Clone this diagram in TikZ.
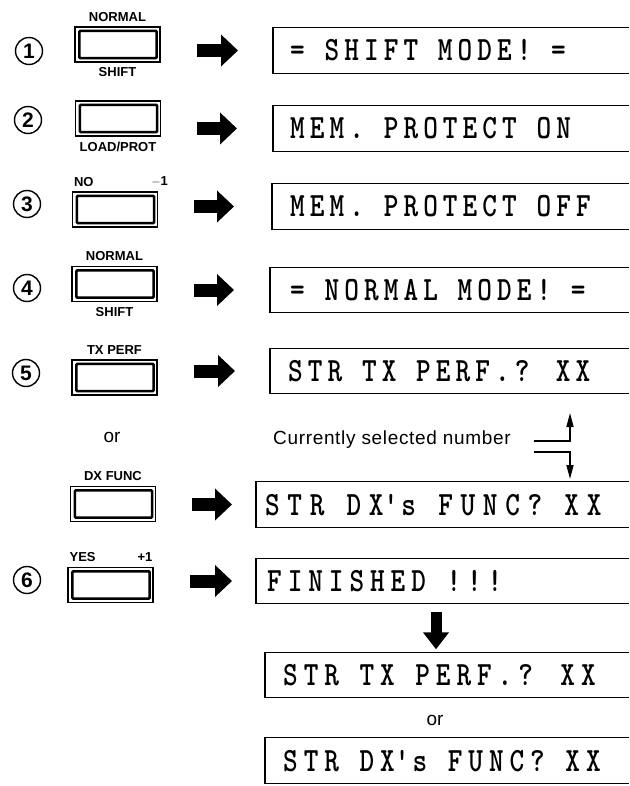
\documentclass[tikz,border=0pt]{standalone}
\usepackage{fontspec}
\setmainfont{Liberation Sans}
\newfontfamily\lcdfont[FakeStretch=0.82,LetterSpace=15]{lmmonolt10-bold.otf}
\newfontfamily\lcdmid[FakeStretch=0.82,LetterSpace=17.5]{lmmonolt10-bold.otf}
\newfontfamily\lcdwide[FakeStretch=0.82,LetterSpace=22.5]{lmmonolt10-bold.otf}
\newfontfamily\widefont[LetterSpace=3.5]{Liberation Sans}
\usetikzlibrary{arrows.meta,positioning}

\tikzset{
  keycap/.style={draw, line width=1.2pt, minimum width=85pt, minimum height=35pt, inner sep=0pt},
  keyin/.style={line width=2.6pt, rounded corners=1pt},
  keylbl/.style={font=\fontsize{13}{14}\selectfont\bfseries, inner sep=0pt},
  stepnum/.style={draw, circle, line width=1.4pt, minimum size=27pt, inner sep=0pt, font=\fontsize{21}{21}\selectfont\bfseries},
  txt/.style={font=\fontsize{19}{19}\selectfont, inner sep=0pt},
  lcd/.style={anchor=west, minimum height=45pt, inner ysep=0pt, text height=21pt, text depth=0pt, font=\lcdfont\fontsize{34}{34}\selectfont},
  lcdmid/.style={lcd, font=\lcdmid\fontsize{34}{34}\selectfont},
  lcdwide/.style={lcd, font=\lcdwide\fontsize{34}{34}\selectfont},
  lcdframe/.style={line width=1.3pt},
  fat/.style={line width=13pt, -{Triangle[width=31pt,length=17pt]}},
  fatdown/.style={line width=11pt, -{Triangle[width=25pt,length=17pt]}},
  selarrow/.style={line width=1.6pt, -{Triangle[width=7pt,length=14pt]}}
}

\begin{document}
\begin{tikzpicture}[x=1pt,y=-1pt]
  \useasboundingbox (0,0) rectangle (629,786);
  \coordinate (edge) at (629,0);

  % step numbers
  \node[stepnum] (n1) at (29,51) {1};
  \node[stepnum] (n2) at (28,120) {2};
  \node[stepnum] (n3) at (27,204) {3};
  \node[stepnum] (n4) at (27,288) {4};
  \node[stepnum] (n5) at (26,373) {5};
  \node[stepnum] (n6) at (27,580) {6};

  % keys
  \node[keycap] (k1) at (117.5,44.5) {};
  \node[keycap] (k2) at (118,118.5) {};
  \node[keycap] (k3) at (115,209.5) {};
  \node[keycap] (k4) at (114.5,284) {};
  \node[keycap] (k5) at (114.5,377.5) {};
  \node[keycap] (k6) at (113,504) {};
  \node[keycap] (k7) at (110.5,585) {};
  \foreach \k in {k1,k2,k3,k4,k5,k6,k7}
    \draw[keyin] ([shift={(5pt,-4.5pt)}]\k.north west) rectangle ([shift={(-4pt,4.5pt)}]\k.south east);

  % key legends
  \node[keylbl, above=5pt of k1] (k1up) {NORMAL};
  \node[keylbl, below=5pt of k1] (k1dn) {SHIFT};
  \node[keylbl, below=5pt of k2] (k2dn) {LOAD/PROT};
  \node[keylbl, anchor=south west] (k3no) at ([shift={(2pt,5pt)}]k3.north west) {NO};
  \node[keylbl, anchor=south east] (k3dec) at ([shift={(10pt,5pt)}]k3.north east) {$-$1};
  \node[keylbl, above=5pt of k4] (k4up) {NORMAL};
  \node[keylbl, below=5pt of k4] (k4dn) {SHIFT};
  \node[keylbl, above=5pt of k5] (k5up) {TX PERF};
  \node[keylbl, above=5pt of k6] (k6up) {DX FUNC};
  \node[keylbl, anchor=south west] (k7yes) at ([shift={(2pt,5pt)}]k7.north west) {YES};
  \node[keylbl, anchor=south east] (k7inc) at ([shift={(-1pt,5pt)}]k7.north east) {+1};

  % displays
  \node[lcd, inner xsep=17pt] (d1) at (273,50.5) {= SHIFT MODE! =};
  \node[lcd, inner xsep=17pt] (d2) at (273,128.5) {MEM. PROTECT ON};
  \node[lcd, inner xsep=18pt] (d3) at (272,206.5) {MEM. PROTECT OFF};
  \node[lcd, inner xsep=20pt] (d4) at (270,290) {= NORMAL MODE! =};
  \node[lcd, inner xsep=18pt] (d5) at (270,371) {STR TX PERF.? XX};
  \node[lcdwide, inner xsep=9pt] (d6) at (256,504.5) {STR DX\textquotesingle s FUNC? XX};
  \node[lcdmid, inner xsep=11pt] (d7) at (256,581) {FINISHED !!!};
  \node[lcdmid, inner xsep=18pt] (d8) at (265,675) {STR TX PERF.? XX};
  \node[lcdmid, inner xsep=18pt] (d9) at (265,760.5) {STR DX\textquotesingle s FUNC? XX};
  \foreach \d in {d1,d2,d3,d4,d5,d6,d7,d8,d9}
    \draw[lcdframe] (\d.north west -| edge) -- (\d.north west) -- (\d.south west) -- (\d.south west -| edge);

  % key -> display
  \foreach \k/\d/\s in {k1/d1/35,k2/d2/36,k3/d3/38,k4/d4/36,k5/d5/35,k6/d6/24,k7/d7/24}
    \draw[fat, shorten <=36pt, shorten >=\s pt] (\d.west -| \k.east) -- (\d.west);
  \draw[fatdown, shorten <=8pt, shorten >=3pt] ([xshift=180pt]d7.south west) -- ([xshift=171pt]d8.north west);

  % or
  \node[txt] (or1) at (112,437) {or};
  \node[txt] (or2) at (435,720) {or};

  % selected number
  \node[txt, anchor=west] (cur) at (273,440) {\widefont Currently selected number};
  \coordinate (sel1) at (534,441);
  \coordinate (sel2) at (534,452);
  \coordinate (selup) at (570,413);
  \coordinate (seldn) at (570,479);
  \draw[selarrow] (sel1) -| (selup);
  \draw[selarrow] (sel2) -| (seldn);
\end{tikzpicture}
\end{document}
